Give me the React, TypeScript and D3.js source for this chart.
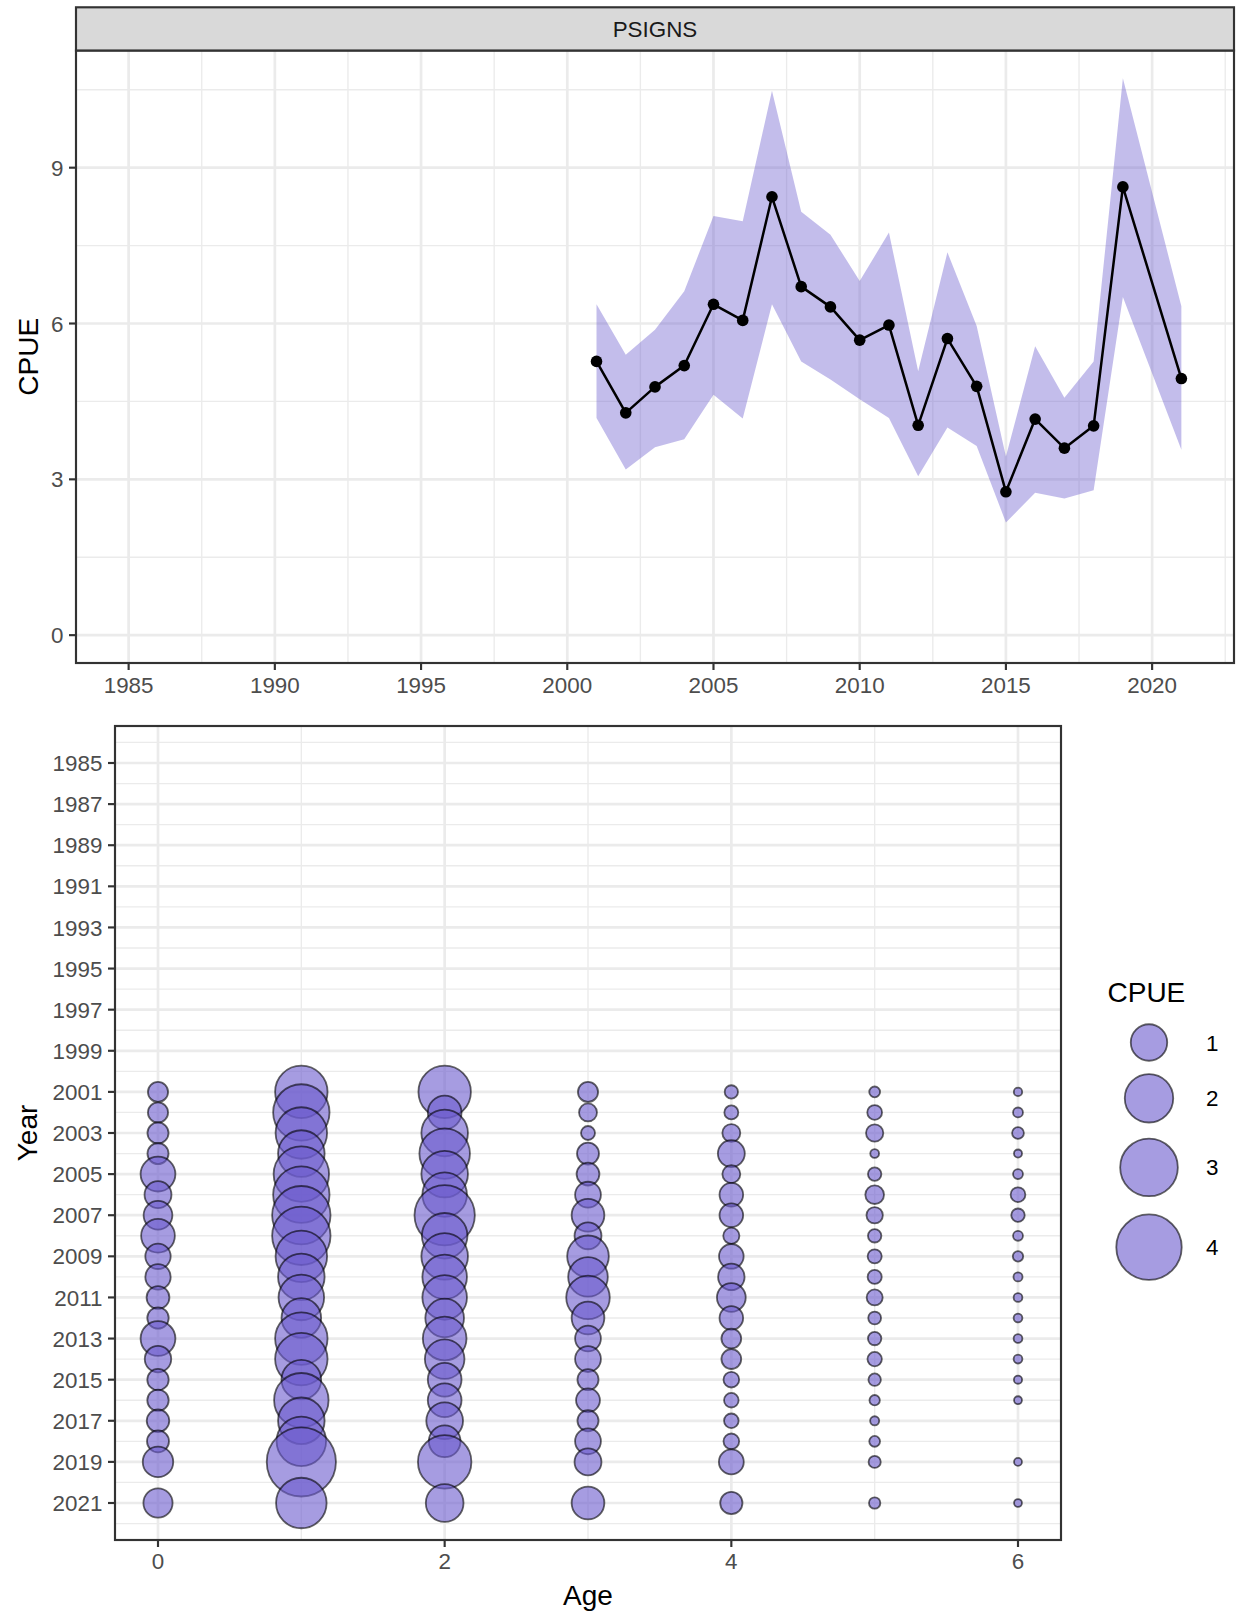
import React from 'react';
import * as d3 from 'd3';

const W = 1238;
const H = 1612;
const FONT = '"Liberation Sans", Arial, Helvetica, sans-serif';

// ---- data ----
const seriesName = 'PSIGNS';
const surveyYears: [number, number] = [1985, 2021];
const years = [2001, 2002, 2003, 2004, 2005, 2006, 2007, 2008, 2009, 2010,
  2011, 2012, 2013, 2014, 2015, 2016, 2017, 2018, 2019, 2021];
const cpue = [5.27, 4.28, 4.78, 5.19, 6.37, 6.06, 8.44, 6.71, 6.32, 5.68,
  5.97, 4.04, 5.71, 4.79, 2.76, 4.16, 3.6, 4.03, 8.63, 4.94];
const cpueLower = [4.18, 3.19, 3.62, 3.77, 4.63, 4.17, 6.37, 5.27, 4.92, 4.54,
  4.18, 3.06, 4.0, 3.64, 2.17, 2.74, 2.63, 2.79, 6.51, 3.57];
const cpueUpper = [6.37, 5.4, 5.88, 6.62, 8.07, 7.97, 10.48, 8.15, 7.71, 6.82,
  7.75, 5.08, 7.37, 5.95, 3.44, 5.56, 4.57, 5.27, 10.72, 6.33];

const topXTicks = [1985, 1990, 1995, 2000, 2005, 2010, 2015, 2020];
const topYTicks = [0, 3, 6, 9];

const ages = [0, 1, 2, 3, 4, 5, 6];
const ageTicks = [0, 2, 4, 6];
const yearTicks = [1985, 1987, 1989, 1991, 1993, 1995, 1997, 1999, 2001, 2003,
  2005, 2007, 2009, 2011, 2013, 2015, 2017, 2019, 2021];

// CPUE at age, one array per age, aligned with `years`
const age0 = [0.19, 0.19, 0.22, 0.22, 0.89, 0.45, 0.54, 0.82, 0.38, 0.38,
  0.28, 0.23, 0.89, 0.43, 0.23, 0.23, 0.27, 0.25, 0.63, 0.56];
const age1 = [2.41, 2.85, 2.31, 1.82, 2.74, 2.85, 3.09, 3.09, 2.31, 1.82,
  1.73, 1.23, 2.41, 2.41, 1.23, 2.63, 1.82, 2.11, 4.54, 2.21];
const age2 = [2.41, 0.82, 1.82, 2.21, 1.82, 1.64, 3.33, 1.73, 1.82, 1.64,
  1.64, 1.16, 1.56, 1.23, 0.82, 0.82, 1.02, 0.7, 2.52, 1.09];
const age3 = [0.19, 0.13, 0.05, 0.25, 0.28, 0.4, 0.76, 0.45, 1.39, 1.23,
  1.55, 0.76, 0.4, 0.4, 0.22, 0.32, 0.22, 0.4, 0.45, 0.76];
const age4 = [0.04, 0.05, 0.13, 0.45, 0.13, 0.31, 0.31, 0.09, 0.35, 0.43,
  0.54, 0.31, 0.18, 0.18, 0.08, 0.06, 0.06, 0.08, 0.36, 0.26];
const age5 = [0.013, 0.063, 0.115, 0.002, 0.042, 0.15, 0.094, 0.042, 0.052, 0.052,
  0.087, 0.034, 0.042, 0.057, 0.029, 0.01, 0.003, 0.013, 0.026, 0.018];
const age6: (number | null)[] = [0.001, 0.007, 0.022, 0.0004, 0.007, 0.063, 0.042, 0.007, 0.01, 0.003,
  0.002, 0.002, 0.002, 0.002, 0.0006, 0.0002, null, null, 0.0002, 0.0002];

const legendBreaks = [1, 2, 3, 4];

// ---- styling ----
const FILL = 'rgb(106,90,205)';
const GRID_MAJOR = '#EBEBEB';
const BORDER = '#333333';
const TICK_TEXT = '#4D4D4D';
const LW = 2.7;
const TICK_LEN = 7;
const TICK_FS = 22.4;
const TITLE_FS = 28;

const expand = (d: [number, number], m = 0.05): [number, number] => {
  const r = d[1] - d[0];
  return [d[0] - r * m, d[1] + r * m];
};

const minorBreaks = (majors: number[], domain: [number, number]) => {
  const step = majors[1] - majors[0];
  const out: number[] = [];
  for (let v = majors[0] - step / 2; v <= majors[majors.length - 1] + step / 2 + 1e-9; v += step) {
    if (v >= domain[0] && v <= domain[1]) out.push(v);
  }
  return out;
};

// ---- top panel geometry ----
const T = { left: 76, right: 1234, top: 50.5, bottom: 663, stripTop: 7.3 };
const xTopDom = expand(surveyYears);
const yTopDom = expand([0, d3.max(cpueUpper) as number]);
const xTop = d3.scaleLinear().domain(xTopDom).range([T.left, T.right]);
const yTop = d3.scaleLinear().domain(yTopDom).range([T.bottom, T.top]);

// ---- bottom panel geometry ----
const B = { left: 115, right: 1061, top: 726, bottom: 1540 };
const xBDom = expand([0, 6]);
const yBDom = expand(surveyYears);
const xB = d3.scaleLinear().domain(xBDom).range([B.left, B.right]);
const yB = d3.scaleLinear().domain(yBDom).range([B.top, B.bottom]);

const ageSeries = [age0, age1, age2, age3, age4, age5, age6];
const allValues = ageSeries.flat().filter((v): v is number => v != null);
// bubble diameter (outer edge, stroke included) from CPUE
const sizeScale = d3.scaleSqrt().domain([0, d3.max(allValues) as number]).range([9.3, 71]);

type Bubble = { age: number; year: number; value: number };
const bubbles: Bubble[] = [];
ages.forEach((a, i) => {
  ageSeries[i].forEach((v, j) => {
    if (v != null) bubbles.push({ age: a, year: years[j], value: v });
  });
});

const rows = years.map((y, i) => ({ year: y, est: cpue[i], lo: cpueLower[i], hi: cpueUpper[i] }));
const ribbon = d3.area<typeof rows[0]>()
  .x((d) => xTop(d.year))
  .y0((d) => yTop(d.lo))
  .y1((d) => yTop(d.hi));
const line = d3.line<typeof rows[0]>()
  .x((d) => xTop(d.year))
  .y((d) => yTop(d.est));

// legend layout
const legendKeys = (() => {
  let top = 1018.4;
  return legendBreaks.map((b) => {
    const d = sizeScale(b);
    const h = 1.26 * d;
    const cy = top + h / 2;
    top += h;
    return { b, d, cy };
  });
})();

export default function App() {
  const txMinor = minorBreaks(topXTicks, xTopDom);
  const tyMinor = minorBreaks(topYTicks, yTopDom);
  const bxMinor = minorBreaks(ageTicks, xBDom);
  const byMinor = minorBreaks(yearTicks, yBDom);

  return (
    <svg
      width={W}
      height={H}
      viewBox={`0 0 ${W} ${H}`}
      style={{ position: 'absolute', left: 0, top: 0, display: 'block', background: '#fff' }}
      fontFamily={FONT}
    >
      <rect x={0} y={0} width={W} height={H} fill="#fff" />

      {/* ---------- top panel: index with confidence band ---------- */}
      <g>
        {txMinor.map((v) => (
          <line key={`txm${v}`} x1={xTop(v)} x2={xTop(v)} y1={T.top} y2={T.bottom} stroke={GRID_MAJOR} strokeWidth={LW / 2} />
        ))}
        {tyMinor.map((v) => (
          <line key={`tym${v}`} x1={T.left} x2={T.right} y1={yTop(v)} y2={yTop(v)} stroke={GRID_MAJOR} strokeWidth={LW / 2} />
        ))}
        {topXTicks.map((v) => (
          <line key={`tx${v}`} x1={xTop(v)} x2={xTop(v)} y1={T.top} y2={T.bottom} stroke={GRID_MAJOR} strokeWidth={LW} />
        ))}
        {topYTicks.map((v) => (
          <line key={`ty${v}`} x1={T.left} x2={T.right} y1={yTop(v)} y2={yTop(v)} stroke={GRID_MAJOR} strokeWidth={LW} />
        ))}

        <path d={ribbon(rows) || ''} fill={FILL} fillOpacity={0.4} />
        <path d={line(rows) || ''} fill="none" stroke="#000" strokeWidth={2.5} strokeLinejoin="round" />
        {rows.map((d) => (
          <circle key={`p${d.year}`} cx={xTop(d.year)} cy={yTop(d.est)} r={5.8} fill="#000" />
        ))}

        <rect x={T.left} y={T.top} width={T.right - T.left} height={T.bottom - T.top} fill="none" stroke={BORDER} strokeWidth={LW * 0.8} />

        {/* strip */}
        <rect x={T.left} y={T.stripTop} width={T.right - T.left} height={T.top - T.stripTop} fill="#D9D9D9" stroke={BORDER} strokeWidth={LW * 0.8} />
        <text x={(T.left + T.right) / 2} y={37} textAnchor="middle" fontSize={TICK_FS} fill="#1A1A1A">{seriesName}</text>

        {/* axes */}
        {topXTicks.map((v) => (
          <g key={`txl${v}`}>
            <line x1={xTop(v)} x2={xTop(v)} y1={T.bottom} y2={T.bottom + TICK_LEN} stroke={BORDER} strokeWidth={LW * 0.8} />
            <text x={xTop(v)} y={693} textAnchor="middle" fontSize={TICK_FS} fill={TICK_TEXT}>{v}</text>
          </g>
        ))}
        {topYTicks.map((v) => (
          <g key={`tyl${v}`}>
            <line x1={T.left - TICK_LEN} x2={T.left} y1={yTop(v)} y2={yTop(v)} stroke={BORDER} strokeWidth={LW * 0.8} />
            <text x={T.left - TICK_LEN - 5.6} y={yTop(v)} dy="0.36em" textAnchor="end" fontSize={TICK_FS} fill={TICK_TEXT}>{v}</text>
          </g>
        ))}
        <text transform={`translate(38,${(T.top + T.bottom) / 2}) rotate(-90)`} textAnchor="middle" fontSize={TITLE_FS} fill="#000">CPUE</text>
      </g>

      {/* ---------- bottom panel: CPUE at age bubbles ---------- */}
      <g>
        {bxMinor.map((v) => (
          <line key={`bxm${v}`} x1={xB(v)} x2={xB(v)} y1={B.top} y2={B.bottom} stroke={GRID_MAJOR} strokeWidth={LW / 2} />
        ))}
        {byMinor.map((v) => (
          <line key={`bym${v}`} x1={B.left} x2={B.right} y1={yB(v)} y2={yB(v)} stroke={GRID_MAJOR} strokeWidth={LW / 2} />
        ))}
        {ageTicks.map((v) => (
          <line key={`bx${v}`} x1={xB(v)} x2={xB(v)} y1={B.top} y2={B.bottom} stroke={GRID_MAJOR} strokeWidth={LW} />
        ))}
        {yearTicks.map((v) => (
          <line key={`by${v}`} x1={B.left} x2={B.right} y1={yB(v)} y2={yB(v)} stroke={GRID_MAJOR} strokeWidth={LW} />
        ))}

        {bubbles.map((b) => (
          <circle
            key={`b${b.age}-${b.year}`}
            cx={xB(b.age)}
            cy={yB(b.year)}
            r={sizeScale(b.value) / 2 - 0.9}
            fill={FILL}
            fillOpacity={0.6}
            stroke="#000"
            strokeOpacity={0.6}
            strokeWidth={1.8}
          />
        ))}

        <rect x={B.left} y={B.top} width={B.right - B.left} height={B.bottom - B.top} fill="none" stroke={BORDER} strokeWidth={LW * 0.8} />

        {ageTicks.map((v) => (
          <g key={`bxl${v}`}>
            <line x1={xB(v)} x2={xB(v)} y1={B.bottom} y2={B.bottom + TICK_LEN} stroke={BORDER} strokeWidth={LW * 0.8} />
            <text x={xB(v)} y={1569} textAnchor="middle" fontSize={TICK_FS} fill={TICK_TEXT}>{v}</text>
          </g>
        ))}
        {yearTicks.map((v) => (
          <g key={`byl${v}`}>
            <line x1={B.left - TICK_LEN} x2={B.left} y1={yB(v)} y2={yB(v)} stroke={BORDER} strokeWidth={LW * 0.8} />
            <text x={B.left - TICK_LEN - 5.6} y={yB(v)} dy="0.36em" textAnchor="end" fontSize={TICK_FS} fill={TICK_TEXT}>{v}</text>
          </g>
        ))}
        <text x={(B.left + B.right) / 2} y={1605} textAnchor="middle" fontSize={TITLE_FS} fill="#000">Age</text>
        <text transform={`translate(37,${(B.top + B.bottom) / 2}) rotate(-90)`} textAnchor="middle" fontSize={TITLE_FS} fill="#000">Year</text>

        {/* size legend */}
        <text x={1107.5} y={1002} fontSize={TITLE_FS} fill="#000">CPUE</text>
        {legendKeys.map((k) => (
          <g key={`lg${k.b}`}>
            <circle cx={1149} cy={k.cy} r={k.d / 2 - 0.9} fill={FILL} fillOpacity={0.6} stroke="#000" strokeOpacity={0.6} strokeWidth={1.8} />
            <text x={1206} y={k.cy} dy="0.36em" fontSize={TICK_FS} fill="#000">{k.b}</text>
          </g>
        ))}
      </g>
    </svg>
  );
}
